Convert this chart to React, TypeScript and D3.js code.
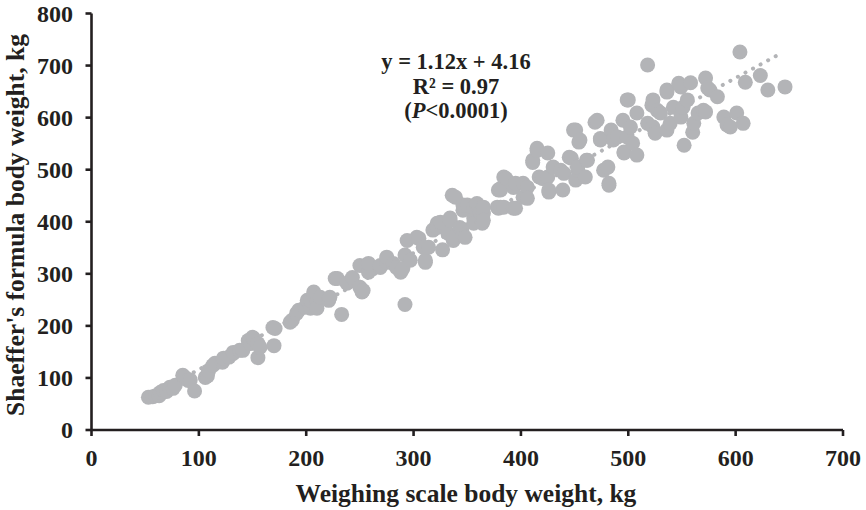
import React from "react";
import * as d3 from "d3";

const xTicks = [0, 100, 200, 300, 400, 500, 600, 700];
const yTicks = [0, 100, 200, 300, 400, 500, 600, 700, 800];

// [weighing scale body weight, Shaeffer's formula body weight]
const lowPoints: [number, number][] = [
  [53,63],[57,64],[60,66],[63,66],[64,72],[67,76],[70,74],[73,82],[76,80],[78,86],[85,105],[87,101],[90,95],[92,96],[96,75],[106,101],[108,104],[109,114],[113,124],[115,128],[122,130],[123,138],[128,140],[132,147],[132,149],[138,153],[141,153],[146,172],[148,166],[150,178],[151,176],[155,139],[155,166],[157,159],[169,197],[170,162],[171,195],[185,207],[187,211],[191,224],[193,230],[199,236],[201,249],[204,234],[204,249],[207,259],[207,265],[210,245],[210,234],[213,255],[221,249],[222,255]
];
const midPoints: [number, number][] = [
  [227,291],[229,291],[233,222],[238,282],[243,293],[250,274],[250,316],[252,265],[253,268],[258,303],[258,320],[269,312],[269,316],[275,322],[275,332],[281,320],[284,312],[288,303],[290,310],[292,241],[292,336],[294,364],[297,326],[303,370],[305,368],[309,351],[311,322],[311,326],[314,351],[318,384],[322,397],[322,389],[325,399],[327,346],[332,378],[334,407],[334,403],[336,451],[337,364],[337,370],[339,447],[343,389],[345,384],[346,374],[346,422],[346,432],[348,370],[350,432],[356,407],[356,397],[356,428],[359,432],[359,435],[362,418],[364,397],[364,399],[365,416],[365,428],[365,403]
];
const highPoints: [number, number][] = [
  [378,428],[379,461],[379,426],[381,461],[381,428],[381,464],[384,486],[384,428],[386,483],[393,426],[393,466],[395,474],[395,426],[402,447],[402,474],[406,466],[406,445],[411,518],[411,514],[415,541],[415,537],[417,486],[420,483],[425,532],[425,486],[426,457],[426,461],[430,505],[437,499],[439,461],[440,493],[445,524],[447,522],[449,576],[451,480],[451,576],[453,499],[453,505],[454,553],[455,557],[460,486],[461,518],[462,518],[469,591],[471,595],[474,557],[474,560],[477,499],[481,505],[482,474],[482,470],[484,576],[486,557],[490,563],[495,595],[496,534],[496,532],[499,634],[499,563],[500,634],[502,582],[504,551],[508,528],[508,609],[518,701],[518,589],[522,624],[523,634],[523,582],[525,570],[527,614],[530,609],[536,653],[536,649],[536,576],[539,589],[542,620],[547,666],[549,659],[549,601],[551,620],[552,547],[555,634],[558,667],[560,572],[561,589],[565,609],[570,614],[572,676],[572,611],[574,657],[576,653],[583,640],[589,601],[592,586],[595,582],[601,609],[604,726],[607,589],[609,668],[623,681],[630,653],[646,659]
];

const slope = 1.12;
const intercept = 4.16;
const trendRange = [53, 641];

const FONT = "'Liberation Serif', 'Times New Roman', serif";
const POINT = "#b3b4b7";
const INK = "#231f20";

export default function App() {
  const x = d3.scaleLinear().domain([0, 700]).range([91.5, 843]);
  const y = d3.scaleLinear().domain([0, 800]).range([430, 13.5]);
  const points = [...lowPoints, ...midPoints, ...highPoints];
  const line = d3
    .line<number>()
    .x((d) => x(d))
    .y((d) => y(slope * d + intercept));

  return (
    <svg
      width={866}
      height={510}
      style={{ position: "absolute", left: 0, top: 0, background: "#fff" }}
      fontFamily={FONT}
      fontWeight="bold"
    >
      <path
        d={line(trendRange) || ""}
        fill="none"
        stroke={POINT}
        strokeWidth={4}
        strokeLinecap="round"
        strokeDasharray="0.1 8.5"
      />
      {points.map((p, i) => (
        <circle key={i} cx={x(p[0])} cy={y(p[1])} r={7.5} fill={POINT} />
      ))}
      {/* axes */}
      <line x1={x(0)} x2={x(0)} y1={y(800)} y2={y(0)} stroke={INK} strokeWidth={2.6} />
      <line x1={x(0)} x2={x(700)} y1={y(0)} y2={y(0)} stroke={INK} strokeWidth={2.6} />
      {yTicks.map((t) => (
        <g key={"y" + t}>
          <line x1={x(0) - 6} x2={x(0)} y1={y(t)} y2={y(t)} stroke={INK} strokeWidth={2.6} />
          <text x={73} y={y(t)} dy="0.35em" textAnchor="end" fontSize={24} fill={INK}>
            {t}
          </text>
        </g>
      ))}
      {xTicks.map((t) => (
        <g key={"x" + t}>
          <line x1={x(t)} x2={x(t)} y1={y(0)} y2={y(0) + 6} stroke={INK} strokeWidth={2.6} />
          <text x={x(t)} y={466} textAnchor="middle" fontSize={24} fill={INK}>
            {t}
          </text>
        </g>
      ))}
      <text x={466} y={502} textAnchor="middle" fontSize={25.5} fill={INK}>
        Weighing scale body weight, kg
      </text>
      <text
        transform="translate(24,225) rotate(-90)"
        textAnchor="middle"
        fontSize={25.5}
        fill={INK}
      >
        Shaeffer's formula body weight, kg
      </text>
      <g fontSize={22.5} fill={INK} textAnchor="middle">
        <text x={456} y={69}>y = 1.12x + 4.16</text>
        <text x={456} y={94}>R² = 0.97</text>
        <text x={456} y={118}>
          (<tspan fontStyle="italic">P</tspan>&lt;0.0001)
        </text>
      </g>
    </svg>
  );
}
